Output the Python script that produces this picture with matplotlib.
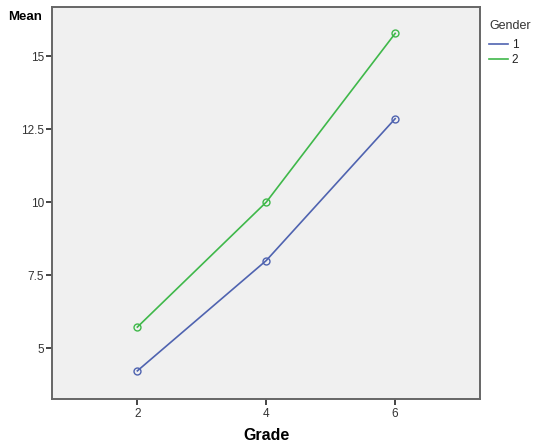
import matplotlib
matplotlib.use('Agg')
import matplotlib.pyplot as plt
from matplotlib.lines import Line2D

# mean score by grade, split by gender
grades = [2, 4, 6]
mean_g1 = [4.22, 8.0, 12.86]
mean_g2 = [5.72, 10.0, 15.78]
genders = ['1', '2']
colors = ['#4f63b0', '#3fb84a']

plt.rcParams['font.family'] = ['Liberation Sans', 'DejaVu Sans']

fig = plt.figure(figsize=(5.39, 4.46), dpi=100)
ax = fig.add_axes([0.097, 0.105, 0.794, 0.879])
ax.set_facecolor('#f0f0f0')

for vals, lab, col in zip([mean_g1, mean_g2], genders, colors):
    ax.plot(grades, vals, color=col, lw=1.2, marker='o', ms=5,
            mfc='none', mec=col, mew=1.0, label=lab)

ax.set_xlim(0.68, 7.32)
ax.set_ylim(3.25, 16.68)
ax.set_xticks(grades)
ax.set_yticks([5, 7.5, 10, 12.5, 15])
ax.set_yticklabels(['5', '7.5', '10', '12.5', '15'])
ax.tick_params(direction='out', length=4, width=1.4, color='#444444',
               labelsize=8.5, labelcolor='#333333', pad=2)
for s in ax.spines.values():
    s.set_color('#666666')
    s.set_linewidth(1.4)

ax.set_xlabel('Grade', fontsize=11.5, fontweight='bold', labelpad=6)
fig.text(0.015, 0.961, 'Mean', fontsize=9.5, fontweight='bold', va='center')

handles = [Line2D([], [], color=c, lw=1.2) for c in colors]
leg = ax.legend(handles, genders, title='Gender', loc='upper left',
                bbox_to_anchor=(1.005, 0.985),
                frameon=False, fontsize=8.5, title_fontsize=9,
                handlelength=1.6, handletextpad=0.3, labelspacing=0.25,
                alignment='left', borderaxespad=0.2)
leg._legend_box.sep = 5
leg.get_title().set_color('#333333')
for t in leg.get_texts():
    t.set_color('#222222')

fig.savefig('out.png', dpi=100)
